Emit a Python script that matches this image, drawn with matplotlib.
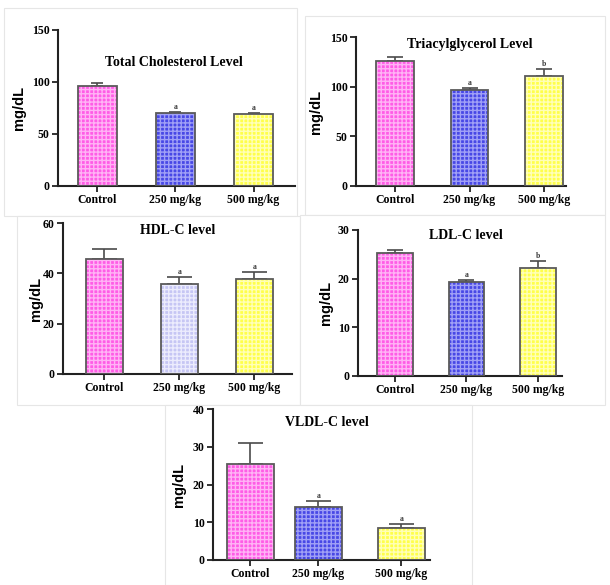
import matplotlib
matplotlib.use("Agg")
import matplotlib.pyplot as plt
from matplotlib.patches import Rectangle

W, H = 610, 585

groups = ["Control", "250 mg/kg", "500 mg/kg"]

# --- data ---
tc_mean = [96.0, 70.5, 69.0]
tc_err = [3.5, 1.0, 1.0]
tc_sig = ["", "a", "a"]

tg_mean = [126.0, 96.6, 110.7]
tg_err = [3.5, 2.0, 6.8]
tg_sig = ["", "a", "b"]

hdl_mean = [45.7, 35.8, 37.8]
hdl_err = [3.9, 2.7, 2.8]
hdl_sig = ["", "a", "a"]

ldl_mean = [25.2, 19.4, 22.1]
ldl_err = [0.7, 0.4, 1.5]
ldl_sig = ["", "a", "b"]

vldl_mean = [25.4, 14.0, 8.4]
vldl_err = [5.7, 1.7, 1.1]
vldl_sig = ["", "a", "a"]

PINK = ("#ff5ce6", "#ffb3f5")
BLUE = ("#4848e6", "#a0a0f6")
YELLOW = ("#ffff4a", "#ffffb8")
LAVENDER = ("#c6c6f4", "#ececfd")

SERIF = "Liberation Serif"
SANS = "Liberation Sans"


def px_rect(x0, y0, x1, y1):
    """pixel box (top-left origin) -> figure fraction rect"""
    return [x0 / W, 1 - y1 / H, (x1 - x0) / W, (y1 - y0) / H]


def panel(fig, box, xs, width, xlim, means, errs, sig, colors, yticks,
          title, title_xy, ypad, cap):
    ax = fig.add_axes(px_rect(*box))
    ax.set_facecolor("none")
    for x, m, (fc, hc) in zip(xs, means, colors):
        ax.bar(x, m, width, color=fc, edgecolor=hc, hatch="++++", linewidth=0, zorder=2)
        ax.bar(x, m, width, fill=False, edgecolor="#5a5a5a", linewidth=1.3, zorder=3)
    ax.errorbar(xs, means, yerr=[[0] * len(means), errs], fmt="none",
                ecolor="#4a4a4a", elinewidth=1.2, capsize=cap, capthick=1.2, zorder=1)
    ytop = yticks[-1]
    for x, m, e, s in zip(xs, means, errs, sig):
        if s:
            ax.text(x, m + e + ytop * 0.006, s, ha="center", va="bottom",
                    fontsize=5.5, family=SERIF, fontweight="bold", color="#333333")
    ax.set_xlim(*xlim)
    ax.set_ylim(0, ytop)
    ax.set_yticks(yticks)
    ax.set_xticks(xs)
    ax.set_xticklabels(groups)
    for side in ("top", "right"):
        ax.spines[side].set_visible(False)
    for side in ("left", "bottom"):
        ax.spines[side].set_linewidth(1.5)
        ax.spines[side].set_color("#222222")
    ax.tick_params(axis="both", direction="out", length=4, width=1.3, color="#222222",
                   pad=2, labelsize=8.5)
    for lab in ax.get_xticklabels() + ax.get_yticklabels():
        lab.set_family(SERIF)
        lab.set_fontweight("bold")
    ax.set_ylabel("mg/dL", family=SANS, fontweight="bold", fontsize=10.5, labelpad=ypad)
    ax.text(title_xy[0], title_xy[1], title, transform=ax.transAxes, ha="center",
            va="center", family=SERIF, fontweight="bold", fontsize=10)
    return ax


fig = plt.figure(figsize=(W / 100, H / 100), dpi=100)
fig.patch.set_facecolor("white")

# sub-image frames
frames = [(4, 8, 297, 216), (305, 16, 605, 215), (17, 216, 300, 405),
          (300, 215, 605, 405), (165, 405, 472, 585)]
for i, (x0, y0, x1, y1) in enumerate(frames):
    fig.patches.append(Rectangle((x0 / W, 1 - y1 / H), (x1 - x0) / W, (y1 - y0) / H,
                                 transform=fig.transFigure, facecolor="white",
                                 edgecolor="#e6e6e6", linewidth=0.8, zorder=-10 + i))

cols = [PINK, BLUE, YELLOW]

panel(fig, (58, 30, 295, 186), [0, 1, 2], 0.5, (-0.5, 2.53),
      tc_mean, tc_err, tc_sig, cols, [0, 50, 100, 150],
      "Total Cholesterol Level", (0.49, 0.79), 4, 4)

panel(fig, (356, 37, 566, 186), [0, 1, 2], 0.51, (-0.53, 2.3),
      tg_mean, tg_err, tg_sig, cols, [0, 50, 100, 150],
      "Triacylglycerol Level", (0.54, 0.95), 5, 6)

panel(fig, (63, 223, 292, 374), [0, 1, 2], 0.5, (-0.55, 2.5),
      hdl_mean, hdl_err, hdl_sig, [PINK, LAVENDER, YELLOW], [0, 20, 40, 60],
      "HDL-C level", (0.50, 0.95), 0, 9)

panel(fig, (358, 230, 562, 376), [0, 1, 2], 0.5, (-0.51, 2.33),
      ldl_mean, ldl_err, ldl_sig, cols, [0, 10, 20, 30],
      "LDL-C level", (0.53, 0.96), 3.5, 5.5)

panel(fig, (213, 409, 430, 560), [0, 1, 2.22], 0.7, (-0.55, 2.64),
      vldl_mean, vldl_err, vldl_sig, cols, [0, 10, 20, 30, 40],
      "VLDL-C level", (0.525, 0.91), 5, 9)

fig.savefig("out.png", dpi=100, facecolor="white")
